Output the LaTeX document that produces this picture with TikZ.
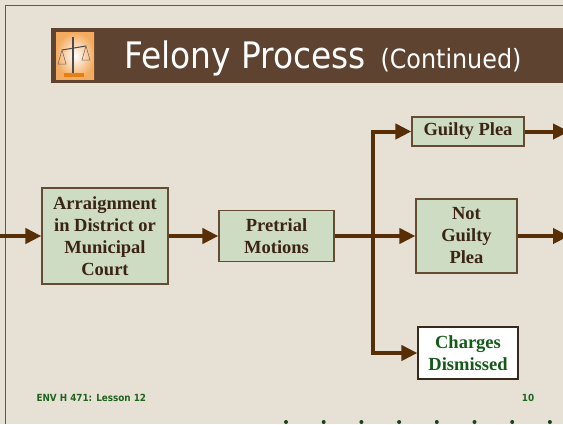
\documentclass[tikz,border=0pt]{standalone}
\usepackage{fontspec}
\setmainfont{Liberation Serif}
\newfontfamily\slidefont{DejaVu Sans Condensed}
\usetikzlibrary{arrows.meta, positioning}
\definecolor{pagebg}{RGB}{231, 224, 212}
\definecolor{barbrown}{RGB}{94, 67, 48}
\definecolor{boxgreen}{RGB}{205, 220, 194}
\definecolor{boxline}{RGB}{100, 76, 50}
\definecolor{flowbrown}{RGB}{88, 46, 6}
\definecolor{textbrown}{RGB}{60, 36, 20}
\definecolor{footgreen}{RGB}{30, 100, 30}
\definecolor{dismissgreen}{RGB}{20, 90, 25}
\tikzset{
  stage/.style={draw=boxline, line width=1.2pt, fill=boxgreen, text=textbrown, font=\fontsize{18.5}{22}\selectfont\bfseries, align=center, inner sep=0pt},
  flow/.style={draw=flowbrown, line width=4pt, -{Triangle[length=16pt, width=15pt]}},
  footer/.style={font=\slidefont\bfseries\fontsize{9.8}{12}\selectfont, text=footgreen}
}

\begin{document}
\begin{tikzpicture}[x=1pt, y=-1pt]
  % Page
  \clip (0,0) rectangle (563,424);
  \fill[pagebg] (0,0) rectangle (563,424);
  \draw[black!65, line width=1.2pt] (5.5,424) -- (5.5,5.5) -- (563,5.5);

  % Title bar
  \fill[barbrown] (51,27.5) rectangle (563,83);
  \shade[inner color=white, outer color=orange!55!pagebg] (56,32) rectangle (94,79);
  \draw[black!70, line width=1.2pt] (73,37) -- (73,74);
  \draw[black!70, line width=1pt] (62,50) -- (86,46);
  \draw[black!60, line width=0.5pt] (62,50) -- (58,64) -- (66,64) -- cycle;
  \draw[black!60, line width=0.5pt] (86,46) -- (82,60) -- (90,60) -- cycle;
  \fill[orange!60!brown] (64,73) rectangle (84,77);
  \node[font=\slidefont\fontsize{36.5}{40}\selectfont, text=white, anchor=base west] (title) at (121,68) {Felony Process};
  \node[font=\slidefont\fontsize{26.5}{30}\selectfont, text=white, anchor=base west] (subtitle) at (377,68) {(Continued)};

  % Stages
  \node[stage, minimum width=126pt, minimum height=96pt] (arraign) at (105,236) {Arraignment\\in District or\\Municipal\\Court};
  \node[stage, minimum width=115pt, minimum height=51pt] (pretrial) at (276.5,236) {Pretrial\\Motions};
  \node[stage, minimum width=112pt, minimum height=29pt] (guilty) at (468,131.5) {Guilty Plea};
  \node[stage, minimum width=101pt, minimum height=74pt] (notguilty) at (466.5,236) {Not\\Guilty\\Plea};
  \node[stage, fill=white, draw=black!45!boxline, text=dismissgreen, minimum width=100pt, minimum height=52pt] (dismissed) at (468,353) {Charges\\Dismissed};

  % Flow
  \coordinate (entry) at (0,236);
  \coordinate (fork) at (373,236);
  \coordinate (outguilty) at (569,131.5);
  \coordinate (outnot) at (569,236);
  \draw[flow] (entry) -- (arraign);
  \draw[flow] (arraign) -- (pretrial);
  \draw[flow] (pretrial) -- (notguilty);
  \draw[flow] (fork) |- (guilty);
  \draw[flow] (fork) |- (dismissed);
  \draw[flow] (guilty) -- (outguilty);
  \draw[flow] (notguilty) -- (outnot);

  % Footer
  \node[footer, anchor=west] (lesson) at (33,398) {ENV H 471: Lesson 12};
  \node[footer] (pagenum) at (528,398) {10};
  \foreach \i in {0,...,7}
    \fill[footgreen!70!black] (286+37.7*\i,422) circle (2pt);
\end{tikzpicture}
\end{document}
